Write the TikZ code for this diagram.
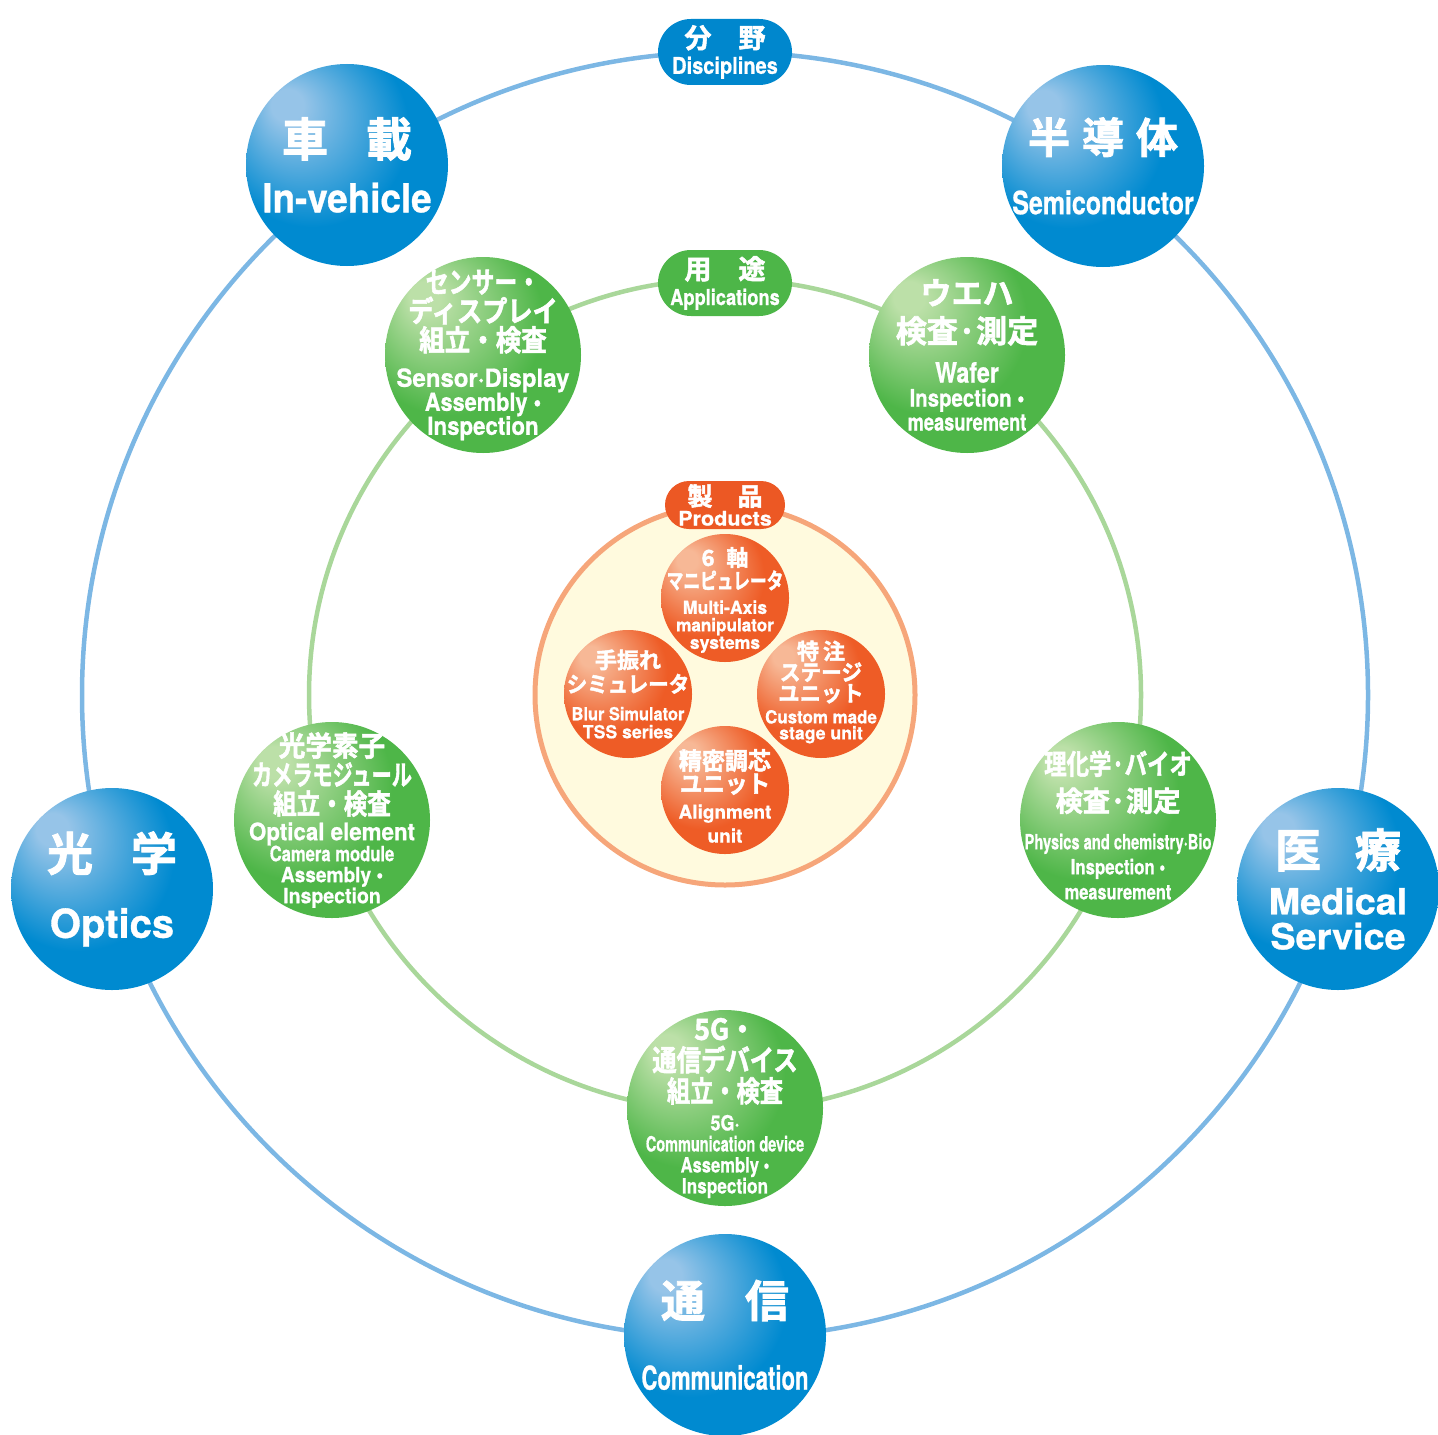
\documentclass[tikz,border=0pt]{standalone}
\usepackage{fontspec}
\usepackage{graphicx}
\usetikzlibrary{positioning}
\newfontfamily\jpfont{Noto Sans CJK JP}[BoldFont={Noto Sans CJK JP Bold}, BoldFeatures={FakeBold=2}]
\newfontfamily\enfont{TeX Gyre Heros}[BoldFeatures={FakeBold=0.8}]
\usepackage{xcolor}
\definecolor{ringblue}{RGB}{124,183,228}
\definecolor{ringgreen}{RGB}{169,215,154}
\definecolor{ringorange}{RGB}{246,166,122}
\definecolor{cream}{RGB}{255,250,222}
\definecolor{bluehi}{RGB}{150,196,232}
\definecolor{bluebase}{RGB}{0,138,208}
\definecolor{bluedark}{RGB}{0,102,165}
\definecolor{greenhi}{RGB}{188,224,168}
\definecolor{greenbase}{RGB}{78,182,72}
\definecolor{greendark}{RGB}{52,140,52}
\definecolor{orangehi}{RGB}{247,184,150}
\definecolor{orangebase}{RGB}{238,92,38}
\definecolor{orangedark}{RGB}{200,70,28}
\definecolor{pillblue}{RGB}{0,135,205}
\definecolor{pillgreen}{RGB}{77,182,72}
\definecolor{pillorange}{RGB}{236,88,36}
\pgfdeclareradialshading{blueshade}{\pgfpoint{-16bp}{16bp}}{color(0bp)=(bluehi); color(4bp)=(bluehi); color(24bp)=(bluebase); color(40bp)=(bluebase); color(52bp)=(bluedark)}
\pgfdeclareradialshading{greenshade}{\pgfpoint{-16bp}{16bp}}{color(0bp)=(greenhi); color(4bp)=(greenhi); color(24bp)=(greenbase); color(40bp)=(greenbase); color(52bp)=(greendark)}
\pgfdeclareradialshading{orangeshade}{\pgfpoint{-16bp}{16bp}}{color(0bp)=(orangehi); color(4bp)=(orangehi); color(24bp)=(orangebase); color(40bp)=(orangebase); color(52bp)=(orangedark)}
\tikzset{bigbluenode/.style={circle, minimum size=101pt, inner sep=0pt, shading=blueshade},
biggreennode/.style={circle, minimum size=98pt, inner sep=0pt, shading=greenshade},
smallorangenode/.style={circle, minimum size=64pt, inner sep=0pt, shading=orangeshade}}
\tikzset{bluepill/.style={rectangle, rounded corners=16.5pt, minimum width=67pt, minimum height=33pt, inner sep=0pt, fill=pillblue, text=white, align=center},
greenpill/.style={bluepill, fill=pillgreen},
orangepill/.style={rectangle, rounded corners=12pt, minimum width=60pt, minimum height=24pt, inner sep=0pt, fill=pillorange, text=white, align=center},
balltext/.style={text=white, align=center, inner sep=0pt}}
\newcommand{\jpline}[3][1]{\scalebox{#1}[1]{\jpfont\bfseries\fontsize{#2}{#2}\selectfont #3}}
\newcommand{\enline}[3][1]{\scalebox{#1}[1]{\enfont\bfseries\fontsize{#2}{#2}\selectfont #3}}
\newcommand{\rowskip}[1]{\fontsize{5}{#1}\selectfont\lineskiplimit=-100pt\lineskip=0pt}

\begin{document}
\begin{tikzpicture}[x=0.5pt, y=-0.5pt]
        \useasboundingbox (0,0) rectangle (1438,1434);
        % Rings
        \coordinate (centre) at (725,695);
        \draw[ringblue, line width=2.25pt] (centre) circle[radius=321.5pt];
        \draw[ringgreen, line width=2.25pt] (centre) circle[radius=208pt];
        \draw[ringorange, fill=cream, line width=2.5pt] (centre) circle[radius=95pt];
        % Disciplines
        \foreach \name/\x/\y in {invehicle/347/165, semiconductor/1103/166, optics/112/889, medical/1338/889, communication/725/1335} {
            \node[bigbluenode] (\name) at (\x,\y) {};
        }
        \node[balltext, font=\rowskip{28pt}] (invehicletext) at (invehicle) {\jpline{23}{車\hspace{19pt}載}\\\enline[.92]{20}{In-vehicle}};
        \node[balltext, font=\rowskip{30.5pt}] (semiconductortext) at (semiconductor) {\jpline{21}{半\hspace{6pt}導\hspace{6pt}体}\\\enline[.78]{16}{Semiconductor}};
        \node[balltext, font=\rowskip{33.5pt}] (opticstext) at (optics) {\jpline{23}{光\hspace{19pt}学}\\\enline{20}{Optics}};
        \node[balltext, font=\rowskip{17.5pt}] (medicaltext) at (medical) {\jpline{23}{医\hspace{17pt}療}\\[6pt]\enline[1.05]{18}{Medical}\\\enline[1.05]{18}{Service}};
        \node[balltext, font=\rowskip{36.25pt}] (communicationtext) at (communication) {\jpline{22}{通\hspace{20pt}信}\\\enline[.67]{16.5}{Communication}};
        % Applications
        \foreach \name/\x/\y in {sensor/483/355, wafer/967/355, optical/332/820, physics/1118/820, fiveg/725/1108} {
            \node[biggreennode] (\name) at (\x,\y) {};
        }
        \node[balltext, font=\rowskip{12pt}] (sensortext) at (sensor) {\jpline[.79]{14.5}{センサー・}\\[2.5pt]\jpline[.87]{14.5}{ディスプレイ}\\[2.5pt]\jpline[.88]{14.5}{組立・検査}\\[6pt]\enline[.96]{12.5}{Sensor·Display}\\\enline[.87]{12.5}{Assembly •}\\\enline[.89]{12.5}{Inspection}};
        \node[balltext, font=\rowskip{12pt}] (wafertext) at (wafer) {\jpline{15.5}{ウエハ}\\[7pt]\jpline{15.5}{検査·測定}\\[8pt]\enline[.83]{14}{Wafer}\\\enline[.85]{12}{Inspection •}\\\enline[.76]{12}{measurement}};
        \node[balltext, font=\rowskip{10.5pt}] (opticaltext) at (optical) {\jpline[.95]{14}{光学素子}\\[4pt]\jpline[.72]{14}{カメラモジュール}\\[4pt]\jpline[.84]{14}{組立・検査}\\[2.5pt]\enline[.93]{12}{Optical element}\\\enline[.79]{10.5}{Camera module}\\\enline[.91]{10.5}{Assembly •}\\\enline[.93]{10.5}{Inspection}};
        \node[balltext, font=\rowskip{12.5pt}, yshift=-2.5pt] (physicstext) at (physics) {\jpline[.8]{14}{理化学·バイオ}\\[6pt]\jpline[.97]{14}{検査·測定}\\[6.5pt]\enline[.7]{10.5}{Physics and chemistry·Bio}\\\enline[.8]{10.5}{Inspection •}\\\enline[.78]{10.5}{measurement}};
        \node[balltext, font=\rowskip{10.5pt}] (fivegtext) at (fiveg) {\jpline[.92]{14.5}{5G・}\\[5pt]\jpline[.84]{14.5}{通信デバイス}\\[5pt]\jpline[.8]{14.5}{組立・検査}\\[3.8pt]\enline[.86]{10.5}{5G·}\\\enline[.69]{10.5}{Communication device}\\\enline[.79]{10.5}{Assembly •}\\\enline[.82]{10.5}{Inspection}};
        % Products
        \foreach \name/\x/\y in {manipulator/725/598, blur/628/694, custom/821/694, alignment/725/790} {
            \node[smallorangenode] (\name) at (\x,\y) {};
        }
        \node[balltext, font=\rowskip{8.75pt}, yshift=-1pt] (manipulatortext) at (manipulator) {\jpline{11}{6\hspace{6pt}軸}\\[2.75pt]\jpline[.76]{11}{マニピュレータ}\\[3.75pt]\enline[.98]{9}{Multi-Axis}\\\enline[.95]{9}{manipulator}\\\enline[.98]{9}{systems}};
        \node[balltext, font=\rowskip{9pt}] (blurtext) at (blur) {\jpline{11}{手振れ}\\[3pt]\jpline[.93]{11}{シミュレータ}\\[5pt]\enline[.91]{9}{Blur Simulator}\\\enline[.98]{9}{TSS series}};
        \node[balltext, font=\rowskip{8pt}, yshift=1pt] (customtext) at (custom) {\jpline{11}{特\hspace{2pt}注}\\[2.5pt]\jpline[.94]{11}{ステージ}\\[2.5pt]\jpline[.97]{11}{ユニット}\\[3pt]\enline[.94]{9}{Custom made}\\\enline[.98]{9}{stage unit}};
        \node[balltext, font=\rowskip{12pt}, yshift=-3pt] (alignmenttext) at (alignment) {\jpline[.96]{12}{精密調芯}\\[-.5pt]\jpline[.94]{12}{ユニット}\\[1pt]\enline{9.5}{Alignment}\\\enline{9.5}{unit}};
        % Caption labels
        \node[bluepill, font=\rowskip{13pt}] (disciplines) at (725,52) {\jpline{13.5}{分\hspace{13.5pt}野}\\\enline[.87]{11.5}{Disciplines}};
        \node[greenpill, font=\rowskip{13pt}] (applications) at (725,283) {\jpline{13.5}{用\hspace{13.5pt}途}\\\enline[.83]{11}{Applications}};
        \node[orangepill, font=\rowskip{10pt}] (products) at (725,505) {\jpline{12.5}{製\hspace{12.5pt}品}\\\enline[1.08]{10}{Products}};
    \end{tikzpicture}
\end{document}
